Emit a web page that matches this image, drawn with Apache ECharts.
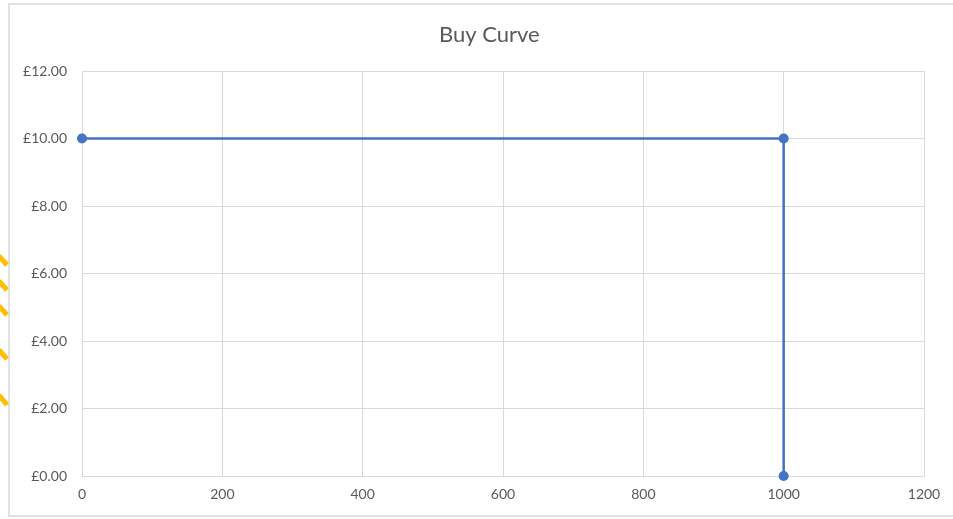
<!DOCTYPE html>
<html>
<head>
<meta charset="utf-8">
<script src="https://cdn.jsdelivr.net/npm/echarts@6/dist/echarts.min.js"></script>
<style>
  html, body { margin: 0; padding: 0; background: #fff; }
  #chart { width: 953px; height: 519px; }
</style>
</head>
<body>
<div id="chart"></div>
<script>
// buy curve points
const quantities = [0, 1000, 1000]
const prices = [10, 10, 0]
const xTicks = [0, 200, 400, 600, 800, 1000, 1200]
const yTicks = [0, 2, 4, 6, 8, 10, 12]

const chart = echarts.init(document.getElementById('chart'))
const labelColor = '#595959'
const gridColor = '#d9d9d9'

// yellow strokes at the left edge (screenshot decoration)
const marks = [[256, 265], [281, 290], [306, 315], [350, 359], [395, 405]]
const yellow = marks.map(m => ({
  type: 'line',
  shape: { x1: -1, y1: m[0], x2: 7, y2: m[1] },
  style: { stroke: '#ffbf00', lineWidth: 5 },
  silent: true
}))

const option = {
  animation: false,
  title: {
    text: 'Buy Curve',
    left: 434,
    top: 19,
    textStyle: { fontFamily: 'Lato', fontSize: 22, fontWeight: 'normal', color: labelColor }
  },
  grid: { left: 82, right: 29, top: 71, bottom: 43 },
  xAxis: {
    type: 'value',
    min: 0,
    max: xTicks[xTicks.length - 1],
    interval: 200,
    axisLine: { show: true, lineStyle: { color: gridColor, width: 1 } },
    axisTick: { show: false },
    axisLabel: { color: labelColor, fontFamily: 'Lato', fontSize: 14, margin: 11, formatter: v => String(v) },
    splitLine: { show: true, lineStyle: { color: gridColor, width: 1 } }
  },
  yAxis: {
    type: 'value',
    min: 0,
    max: yTicks[yTicks.length - 1],
    interval: 2,
    axisLine: { show: false },
    axisTick: { show: false },
    axisLabel: {
      color: labelColor, fontFamily: 'Lato', fontSize: 14, margin: 15,
      formatter: v => '£' + v.toFixed(2)
    },
    splitLine: { show: true, lineStyle: { color: gridColor, width: 1 } }
  },
  series: [{
    type: 'line',
    data: quantities.map((q, i) => [q, prices[i]]),
    symbol: 'circle',
    symbolSize: 10,
    lineStyle: { color: '#4472c4', width: 2.5 },
    itemStyle: { color: '#4472c4' }
  }],
  graphic: [{
    type: 'rect',
    shape: { x: 9, y: 4, width: 960, height: 512 },
    style: { fill: 'none', stroke: gridColor, lineWidth: 1.5 },
    silent: true,
    z: -1
  }].concat(yellow)
}

chart.setOption(option)
</script>
</body>
</html>
